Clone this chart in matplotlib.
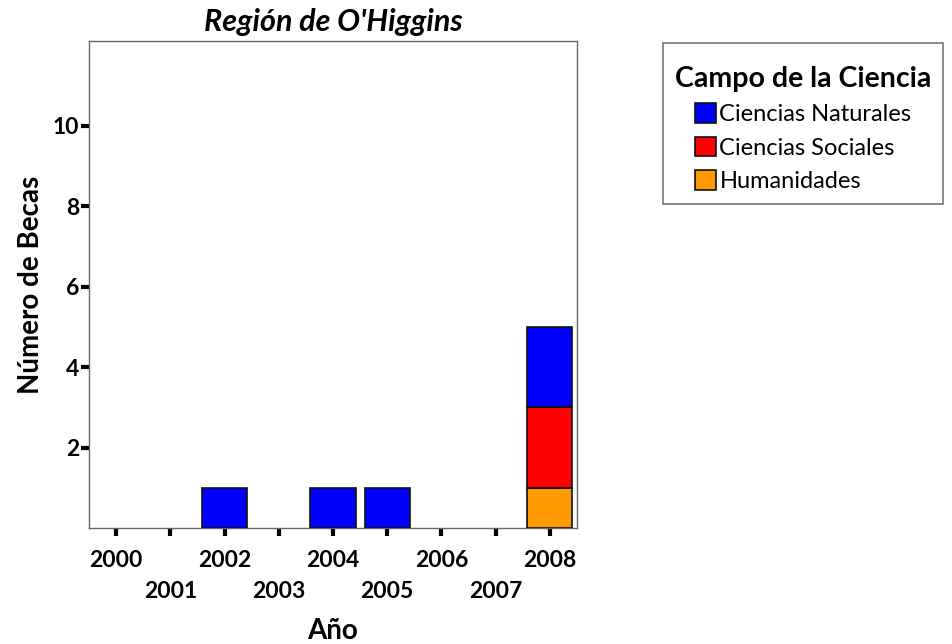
import matplotlib
matplotlib.use('Agg')
import matplotlib.pyplot as plt
import numpy as np

#### Data
years = ['2000', '2001', '2002', '2003', '2004', '2005', '2006', '2007', '2008']
naturales = [0, 0, 1, 0, 1, 1, 0, 0, 2]
sociales = [0, 0, 0, 0, 0, 0, 0, 0, 2]
humanidades = [0, 0, 0, 0, 0, 0, 0, 0, 1]
series_names = ['Ciencias Naturales', 'Ciencias Sociales', 'Humanidades']
series_colors = ['#0000FF', '#FF0000', '#FF9900']

plt.rcParams['font.family'] = ['Lato', 'DejaVu Sans']

fig = plt.figure(figsize=(9.52, 6.44), dpi=100)
ax = fig.add_axes([89/952, 1-528/644, 488/952, 487/644])

x = np.arange(len(years))
w = 0.83
hum = np.array(humanidades)
soc = np.array(sociales)
nat = np.array(naturales)

# stacked: humanidades at bottom, then sociales, then naturales
handles = {}
for vals, base, name, col in [(hum, 0, series_names[2], series_colors[2]),
                              (soc, hum, series_names[1], series_colors[1]),
                              (nat, hum+soc, series_names[0], series_colors[0])]:
	mask = vals > 0
	bottom = np.zeros(len(x)) + base
	b = ax.bar(x[mask], vals[mask], bottom=bottom[mask], width=w, color=col,
	           edgecolor='#111111', linewidth=1.2, zorder=3, label=name)
	handles[name] = b

ax.set_xlim(-0.5, 8.5)
ax.set_ylim(0, 12.1)
ax.set_yticks([2, 4, 6, 8, 10])
ax.set_yticklabels(['2', '4', '6', '8', '10'], fontsize=16.5, fontweight='bold')

ax.set_xticks(x)
# staggered year labels: odd years go on a second row
xlabels = [y if i % 2 == 0 else '\n' + y for i, y in enumerate(years)]
ax.set_xticklabels(xlabels, fontsize=16.5, fontweight='bold', linespacing=1.64)

ax.tick_params(axis='both', direction='out', length=6, width=3, color='black')
ax.tick_params(axis='x', pad=9.5)
ax.tick_params(axis='y', pad=1)

for s in ax.spines.values():
	s.set_color('#666666')
	s.set_linewidth(1.0)

ax.set_title("Región de O'Higgins", fontsize=22, fontweight='bold', style='italic', pad=7)
ax.set_xlabel('Año', fontsize=20, fontweight='bold', labelpad=11)
ax.set_ylabel('Número de Becas', fontsize=20, fontweight='bold', labelpad=6)

leg = fig.legend([handles[n] for n in series_names], series_names,
                 title='\nCampo de la Ciencia', loc='upper left',
                 bbox_to_anchor=(663/952, 1-43/644), borderaxespad=0,
                 frameon=True, fancybox=False,
                 fontsize=17, title_fontproperties={'size': 20.5, 'weight': 'bold'},
                 handlelength=0.9, handleheight=0.9, handletextpad=0.15,
                 labelspacing=0.48, borderpad=0.5, alignment='center')
# a bit of extra room above the legend title
leg.get_title().set_linespacing(0.3)
leg.get_frame().set_edgecolor('#555555')
leg.get_frame().set_linewidth(1.2)

plt.savefig('out.png', dpi=100)
